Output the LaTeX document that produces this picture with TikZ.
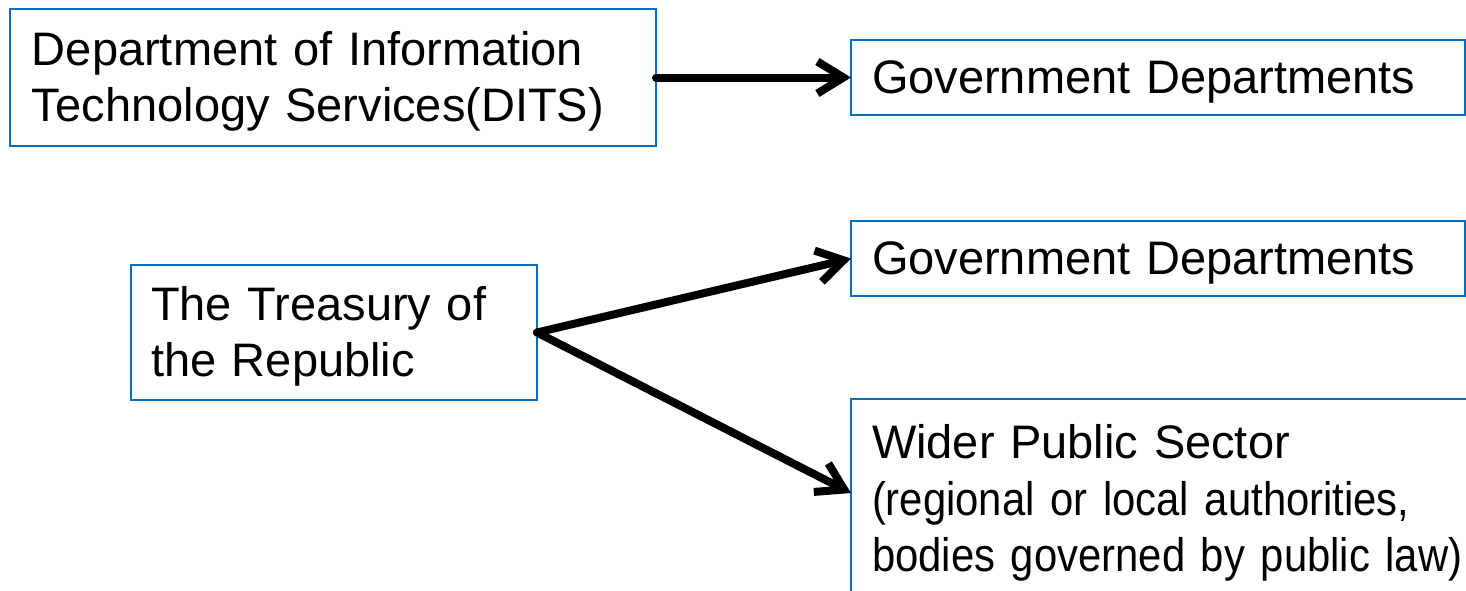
\documentclass[tikz,border=0pt]{standalone}
\usepackage{fontspec}
\setmainfont{Liberation Sans}
\newfontfamily\narrowsans{Liberation Sans}[FakeStretch=0.89]
\usetikzlibrary{arrows.meta, positioning}
\definecolor{boxblue}{RGB}{0,112,192}

\begin{document}
\begin{tikzpicture}[x=0.5pt, y=-0.5pt,
        box/.style={draw=boxblue, line width=1pt, outer sep=0pt, align=left,
            font=\fontsize{23.5}{28.3}\selectfont, execute at begin node=\rule{0pt}{21pt}},
        link/.style={line width=4pt, line cap=round, line join=round,
            -{Straight Barb[length=13pt, width=16pt]}}]
        \useasboundingbox (0,0) rectangle (1466,590);
        \clip (0,0) rectangle (1466,590);
        \node[box, text width=301pt, inner xsep=11pt, minimum height=68.5pt] (dits) at (333,77.5)
            {Department of Information\\Technology Services(DITS)};
        \node[box, text width=286pt, inner xsep=10.5pt, minimum height=37.5pt, right=97.5pt of dits] (gov1)
            {Government Departments};
        \node[box, text width=286pt, inner xsep=10.5pt, minimum height=37.5pt, below=53pt of gov1] (gov2)
            {Government Departments};
        \node[box, text width=183pt, inner xsep=10pt, minimum height=67.5pt] (tr) at (334,332.5)
            {The Treasury of\\the Republic};
        \node[box, text width=300pt, inner xsep=10.5pt, inner ysep=8.7pt,
            below=51.5pt of gov2.south west, anchor=north west] (wps)
            {Wider Public Sector\\{\narrowsans(regional or local authorities,}\\{\narrowsans bodies governed by public law)}};
        \coordinate (wpsin) at ([yshift=-47pt]wps.north west);

        \draw[link] (dits) -- (gov1);
        \draw[link] (tr.east) -- (gov2.west);
        \draw[link] (tr.east) -- (wpsin);
    \end{tikzpicture}
\end{document}
